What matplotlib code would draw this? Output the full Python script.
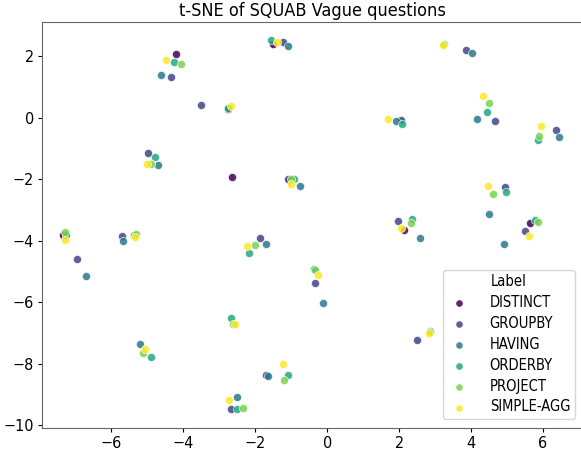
import matplotlib
matplotlib.use("Agg")
import matplotlib.pyplot as plt
import numpy as np

# reference text looks horizontally squeezed -> use the condensed face
plt.rcParams['font.family'] = ['DejaVu Sans']
plt.rcParams['font.stretch'] = 'condensed'

labels = ["DISTINCT", "GROUPBY", "HAVING", "ORDERBY", "PROJECT", "SIMPLE-AGG"]

distinct_x = [-4.19, -1.51, -2.75, -2.65, -1.05, -7.33, 2.14, 5.64]
distinct_y = [2.07, 2.41, 0.28, -1.93, -2.02, -3.82, -3.64, -3.43]

groupby_x = [-4.33, -3.51, -4.98, -1.23, 3.86, 4.66, 2.06, 6.35, -6.95, -5.69, -1.08,
             -1.86, -0.34, 1.98, 4.95, 5.50, 2.51, -1.69, -2.67]
groupby_y = [1.33, 0.42, -1.15, 2.47, 2.20, -0.09, -0.08, -0.41, -4.60, -3.83, -2.00,
             -3.91, -5.38, -3.37, -2.24, -3.67, -7.24, -8.35, -9.46]

having_x = [-4.61, -4.69, -1.08, 4.03, 4.16, 1.91, 6.45, -6.69, -5.67, -0.75, -1.70,
            -0.12, 2.59, 4.50, 4.91, -5.20, -1.64, -2.51]
having_y = [1.40, -1.52, 2.34, 2.11, -0.03, -0.11, -0.63, -5.14, -3.99, -2.23, -4.09,
            -6.03, -3.92, -3.12, -4.11, -7.37, -8.40, -9.09]

orderby_x = [-4.27, -4.79, -1.57, -2.75, 4.43, 2.07, 5.85, -7.26, -5.38, -0.92, -2.18,
             2.37, 4.98, 5.78, -4.89, -2.68, 2.86, -1.08, -2.51, -0.36]
orderby_y = [1.81, -1.26, 2.52, 0.33, 0.18, -0.20, -0.72, -3.80, -3.82, -1.99, -4.38,
             -3.29, -2.41, -3.33, -7.78, -6.50, -6.93, -8.36, -9.48, -4.92]

project_x = [-4.05, -4.89, 3.26, 4.51, 5.89, -7.28, -5.31, -1.00, -2.00, -0.34, 2.34,
             4.62, 5.87, -5.11, -2.62, -1.20, -2.33, 2.85]
project_y = [1.74, -1.49, 2.41, 0.48, -0.60, -3.71, -3.78, -1.98, -4.12, -4.95, -3.41,
             -2.47, -3.38, -7.64, -6.69, -8.54, -9.42, -6.95]

simple_x = [-4.48, -5.01, -1.38, -2.68, 3.21, 4.32, 1.70, 5.94, -7.28, -5.33, -1.01,
            -2.22, -0.25, 2.04, 4.46, 5.60, -5.07, -2.57, 2.82, -1.24, -2.73]
simple_y = [1.87, -1.51, 2.46, 0.38, 2.36, 0.71, -0.03, -0.27, -3.96, -3.88, -2.14,
            -4.17, -5.12, -3.57, -2.23, -3.83, -7.53, -6.72, -6.99, -7.99, -9.16]

xs = [distinct_x, groupby_x, having_x, orderby_x, project_x, simple_x]
ys = [distinct_y, groupby_y, having_y, orderby_y, project_y, simple_y]

colors = plt.cm.viridis(np.linspace(0, 1, len(labels)))

fig = plt.figure(figsize=(5.81, 4.5), dpi=100)
# axes runs slightly past the right edge, like the reference crop
ax = fig.add_axes([0.072, 0.05, 0.932, 0.9])

for lab, x, y, c in zip(labels, xs, ys, colors):
    ax.scatter(x, y, s=34, color=c, alpha=0.85, edgecolors="white", linewidths=0.5, label=lab)

ax.set_xlim(-7.93, 7.12)
ax.set_ylim(-10.07, 3.1)
ax.set_xticks([-6, -4, -2, 0, 2, 4, 6])
ax.set_yticks([-10, -8, -6, -4, -2, 0, 2])
ax.tick_params(labelsize=11.5, length=2.8, pad=3)
for sp in ax.spines.values():
    sp.set_color("0.4")
ax.set_title("t-SNE of SQUAB Vague questions", fontsize=13, pad=5)

leg = ax.legend(title="Label", loc="lower right", fontsize=10.5, title_fontsize=10.5,
                markerscale=0.9, borderaxespad=0.6, handletextpad=1.3,
                labelspacing=0.4, borderpad=0.3, handlelength=1.6)

fig.savefig("out.png", dpi=100)
